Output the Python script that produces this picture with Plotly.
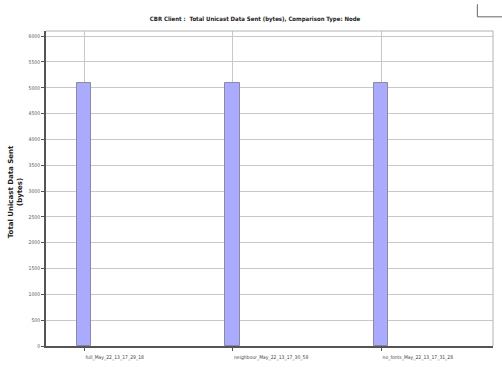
import plotly.graph_objects as go

# Runs compared and the total unicast bytes sent by the CBR client in each
runs = ["full_May_22_13_17_29_18", "neighbour_May_22_13_17_30_58", "no_fonts_May_22_13_17_31_28"]
bytes_sent = [5100, 5100, 5100]
y_ticks = list(range(0, 6001, 500))

narrow = "Liberation Sans Narrow, DejaVu Sans Condensed, sans-serif"

fig = go.Figure()
fig.add_trace(go.Bar(
    x=runs,
    y=bytes_sent,
    width=0.1,
    marker=dict(color="#aaaaff", line=dict(color="#8a8aa8", width=1)),
    hoverinfo="x+y",
))

fig.update_layout(
    width=502, height=374,
    margin=dict(l=46, r=9, t=31, b=28),
    paper_bgcolor="white",
    plot_bgcolor="white",
    showlegend=False,
    bargap=0,
    title=dict(
        text="<b>CBR Client :  Total Unicast Data Sent (bytes), Comparison Type: Node</b>",
        font=dict(family=narrow, size=6, color="#222222"),
        x=0.508, xanchor="center", y=0.95, yanchor="middle",
    ),
)

fig.update_xaxes(
    type="category",
    range=[-0.256, 2.754],
    showgrid=True, gridcolor="#c8c8c8", gridwidth=1,
    showline=True, linecolor="#555555", linewidth=2,
    mirror=False,
    ticks="outside", ticklen=3, tickcolor="#555555",
    ticklabelposition="outside right",
    ticklabelstandoff=5,
    tickfont=dict(family=narrow, size=5, color="#444444"),
    fixedrange=True,
)
fig.update_yaxes(
    range=[0, 6100],
    tickvals=y_ticks,
    ticktext=[str(v) for v in y_ticks],
    showgrid=True, gridcolor="#c8c8c8", gridwidth=1,
    showline=True, linecolor="#555555", linewidth=2,
    ticks="outside", ticklen=3, tickcolor="#555555",
    tickfont=dict(family=narrow, size=5, color="#555555"),
    zeroline=False,
    fixedrange=True,
)

# light frame on the top and right of the plotting area
fig.add_shape(type="line", xref="paper", yref="paper", x0=0, x1=1, y0=1, y1=1,
              line=dict(color="#b4b4b4", width=1))
fig.add_shape(type="line", xref="paper", yref="paper", x0=1, x1=1, y0=0, y1=1,
              line=dict(color="#b4b4b4", width=1))

# corner mark at the top right of the page
fig.add_shape(type="path", xref="paper", yref="paper",
              path="M 0.965,1.085 L 0.965,1.045 L 1.05,1.045",
              line=dict(color="#666666", width=1))

fig.add_annotation(
    text="<b>Total Unicast Data Sent<br>(bytes)</b>",
    xref="paper", yref="paper", x=-0.068, y=0.49,
    xanchor="center", yanchor="middle", textangle=-90, showarrow=False,
    font=dict(family="DejaVu Sans, sans-serif", size=7, color="#222222"),
)

fig.write_html("out.html")
